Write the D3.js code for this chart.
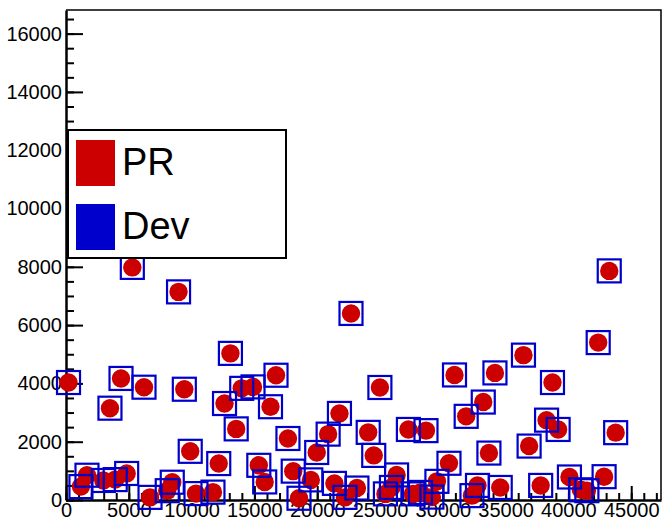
<!DOCTYPE html>
<html>
<head>
<meta charset="utf-8">
<script src="https://cdn.jsdelivr.net/npm/d3@7"></script>
<style>
  html, body { margin: 0; padding: 0; background: #fff; }
  svg { display: block; }
  text { font-family: "Liberation Sans", Arial, Helvetica, sans-serif; }
</style>
</head>
<body>
<svg id="chart" width="665" height="523"></svg>
<script>
// ---- data ----
const seriesNames = ["PR", "Dev"];
const seriesColors = ["#cc0000", "#0000cc"];

const prX = [200, 5280, 8960, 22690, 43250, 42370, 13090, 4380, 6210, 3500,
  9420, 13990, 14890, 16720, 12620, 16280, 13550, 9890, 12160, 15350,
  15820, 17670, 18090, 24990, 21770, 20870, 24060, 19960, 24500, 19490,
  21370, 23160, 18550, 22210, 25430, 25910, 26320, 30930, 34150, 33220,
  31860, 27260, 28660, 33670, 30490, 36420, 29530, 32760, 34570, 27620,
  28220, 29130, 32320, 38730, 38260, 39180, 36870, 43760, 37790, 40080,
  42840, 40990, 41470, 1190, 1670, 2970, 3920, 4830, 6690, 8060,
  8460, 10350, 11700];
const prY = [4030, 7980, 7140, 6400, 7860, 5400, 5030, 4170, 3870, 3150,
  3800, 3830, 3880, 4280, 3310, 3200, 2440, 1670, 1250, 1190,
  620, 2110, 990, 3860, 2970, 2260, 2320, 1630, 1530, 690,
  570, 410, 60, 90, 210, 430, 860, 4290, 4360, 3360,
  2870, 2420, 2380, 1610, 1260, 4970, 640, 500, 430, 210,
  260, 100, 150, 4030, 2740, 2420, 1850, 2310, 500, 790,
  800, 350, 320, 460, 850, 670, 700, 910, 90, 320,
  610, 220, 270];
const devX = prX.slice();
const devY = prY.slice();

const yTickValues = [0, 2000, 4000, 6000, 8000, 10000, 12000, 14000, 16000];
const xTickValues = [0, 5000, 10000, 15000, 20000, 25000, 30000, 35000, 40000, 45000];

// ---- layout ----
const svg = d3.select("#chart");
const mLeft = 66, mRight = 661, mTop = 10, mBottom = 500;

const x = d3.scaleLinear().domain([0, 47370]).range([mLeft, mRight]);
const y = d3.scaleLinear().domain([0, 16810]).range([mBottom, mTop]);

// frame (top & right)
svg.append("path")
  .attr("d", `M${mLeft},${mTop}H${mRight}V${mBottom}`)
  .attr("fill", "none").attr("stroke", "#000").attr("stroke-width", 1.5);

// minor ticks
const yMinor = d3.range(0, 16810, 500);
const xMinor = d3.range(0, 47370, 1000);

svg.append("g").attr("transform", `translate(${mLeft},0)`)
  .call(d3.axisLeft(y).tickValues(yMinor).tickSizeInner(-8).tickSizeOuter(0).tickFormat(""))
  .call(g => g.select(".domain").remove())
  .call(g => g.selectAll("line").attr("stroke-width", 2));

svg.append("g").attr("transform", `translate(0,${mBottom})`)
  .call(d3.axisBottom(x).tickValues(xMinor).tickSizeInner(-7).tickSizeOuter(0).tickFormat(""))
  .call(g => g.select(".domain").remove())
  .call(g => g.selectAll("line").attr("stroke-width", 2));

// major axes
const yAxis = svg.append("g").attr("transform", `translate(${mLeft},0)`)
  .call(d3.axisLeft(y).tickValues(yTickValues).tickSizeInner(-17).tickSizeOuter(0).tickPadding(4).tickFormat(d3.format("d")));
yAxis.selectAll("line").attr("stroke-width", 2);
yAxis.select(".domain").attr("stroke-width", 2.5);
yAxis.selectAll("text").attr("font-size", 20).attr("fill", "#000")
  .attr("font-family", "Liberation Sans, Arial, sans-serif");

const xAxis = svg.append("g").attr("transform", `translate(0,${mBottom})`)
  .call(d3.axisBottom(x).tickValues(xTickValues).tickSizeInner(-14).tickSizeOuter(0).tickPadding(3).tickFormat(d3.format("d")));
xAxis.selectAll("line").attr("stroke-width", 2);
xAxis.select(".domain").attr("stroke-width", 2.5);
xAxis.selectAll("text").attr("font-size", 20).attr("fill", "#000")
  .attr("font-family", "Liberation Sans, Arial, sans-serif");

// ---- marks ----
const pr = prX.map((d, i) => ({ x: d, y: prY[i] }));
const dev = devX.map((d, i) => ({ x: d, y: devY[i] }));

svg.append("g").selectAll("circle").data(pr).join("circle")
  .attr("cx", d => x(d.x)).attr("cy", d => y(d.y)).attr("r", 9.2)
  .attr("fill", seriesColors[0]);

const sq = 23;
svg.append("g").selectAll("rect").data(dev).join("rect")
  .attr("x", d => x(d.x) - sq / 2).attr("y", d => y(d.y) - sq / 2)
  .attr("width", sq).attr("height", sq)
  .attr("fill", "none").attr("stroke", seriesColors[1]).attr("stroke-width", 2.2);

// ---- legend ----
const lg = svg.append("g");
lg.append("rect").attr("x", 68).attr("y", 130).attr("width", 218).attr("height", 128)
  .attr("fill", "#fff").attr("stroke", "#000").attr("stroke-width", 2);
seriesNames.forEach((name, i) => {
  lg.append("rect").attr("x", 76).attr("y", 140 + i * 64).attr("width", 39).attr("height", 46)
    .attr("fill", seriesColors[i]);
  lg.append("text").attr("x", 122).attr("y", 175 + i * 64).attr("font-size", 38)
    .attr("fill", "#000").text(name);
});
</script>
</body>
</html>
